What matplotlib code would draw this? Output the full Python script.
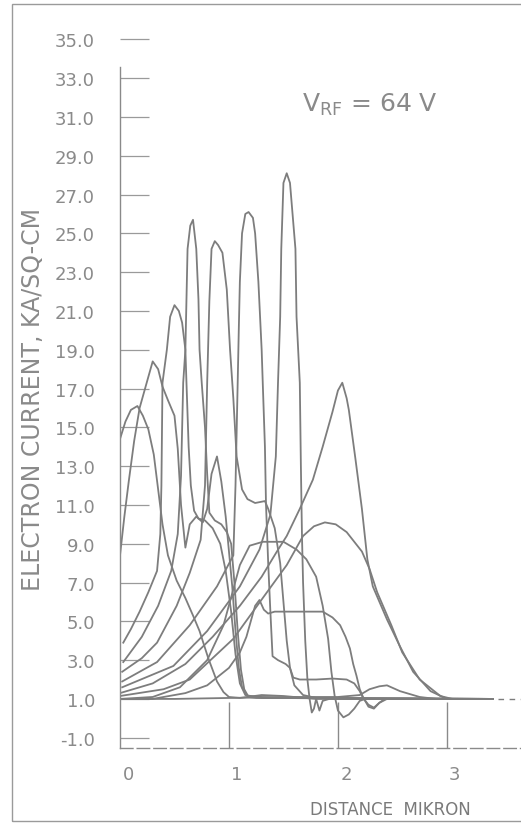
import matplotlib
matplotlib.use("Agg")
import matplotlib.pyplot as plt
from matplotlib.patches import Rectangle
from matplotlib.transforms import ScaledTranslation

# ---------------- data (distance in micron, current in kA/cm^2) ----------------
c1_x = [0, 0.05, 0.10, 0.16, 0.21, 0.26, 0.31, 0.35, 0.39, 0.44, 0.52, 0.60, 0.67, 0.73, 0.81, 0.89, 0.95, 1.00, 1.10, 1.30, 1.50, 1.80, 2.40, 3.42]
c1_y = [14.4, 15.3, 15.9, 16.1, 15.6, 14.9, 13.6, 11.8, 10.0, 8.4, 7.1, 6.2, 5.3, 4.5, 3.1, 1.9, 1.35, 1.1, 1.05, 1.2, 1.15, 1.0, 1.0, 1.0]

c2_x = [0, 0.04, 0.08, 0.13, 0.18, 0.23, 0.26, 0.30, 0.35, 0.39, 0.44, 0.50, 0.53, 0.56, 0.60, 0.64, 0.70, 0.76, 0.80, 0.84, 0.89, 0.93, 0.97, 1.00, 1.03, 1.06, 1.09, 1.12, 1.17, 1.30, 1.60, 3.42]
c2_y = [8.4, 10.4, 12.2, 14.3, 16.0, 17.0, 17.6, 18.4, 18.0, 17.1, 16.4, 15.6, 13.9, 11.0, 8.8, 10.0, 10.4, 10.1, 10.8, 12.6, 13.5, 12.2, 10.4, 8.6, 6.8, 4.5, 2.6, 1.6, 1.15, 1.1, 1.05, 1.0]

c3_x = [0.03, 0.10, 0.18, 0.26, 0.34, 0.37, 0.38, 0.39, 0.43, 0.46, 0.50, 0.54, 0.57, 0.60, 0.61, 0.63, 0.65, 0.68, 0.72, 0.78, 0.85, 0.92, 0.97, 1.02, 1.06, 1.10, 1.15, 1.30, 3.42]
c3_y = [3.9, 4.6, 5.5, 6.5, 7.6, 9.5, 12.0, 17.3, 19.0, 20.7, 21.3, 21.0, 20.4, 19.0, 17.3, 14.0, 12.0, 10.7, 10.3, 10.2, 9.8, 9.0, 7.6, 5.5, 3.3, 1.8, 1.2, 1.05, 1.0]

c4_x = [0.03, 0.20, 0.35, 0.47, 0.53, 0.56, 0.58, 0.60, 0.61, 0.62, 0.645, 0.67, 0.70, 0.72, 0.73, 0.75, 0.78, 0.80, 0.82, 0.87, 0.93, 0.98, 1.02, 1.05, 1.08, 1.11, 1.14, 1.18, 1.25, 3.42]
c4_y = [2.9, 4.2, 5.8, 7.6, 9.5, 12.5, 17.3, 19.0, 21.6, 24.2, 25.4, 25.7, 24.2, 21.6, 19.0, 17.3, 15.0, 12.6, 10.6, 10.2, 10.0, 9.6, 9.0, 7.0, 4.5, 2.5, 1.5, 1.1, 1.05, 1.0]

c5_x = [0.02, 0.20, 0.34, 0.52, 0.64, 0.74, 0.78, 0.80, 0.82, 0.84, 0.87, 0.90, 0.94, 0.98, 1.01, 1.04, 1.07, 1.12, 1.17, 1.24, 1.33, 1.36, 1.42, 1.47, 1.50, 1.53, 1.56, 1.60, 1.68, 1.80, 3.42]
c5_y = [2.4, 3.1, 3.9, 5.8, 7.5, 9.2, 12.0, 17.3, 21.5, 24.2, 24.6, 24.4, 24.0, 22.1, 19.0, 16.5, 13.5, 11.8, 11.3, 11.1, 11.2, 10.8, 9.8, 8.0, 6.0, 4.0, 2.6, 1.7, 1.2, 1.05, 1.0]

c6_x = [0.02, 0.34, 0.64, 0.89, 1.04, 1.06, 1.08, 1.09, 1.10, 1.12, 1.15, 1.18, 1.22, 1.24, 1.27, 1.30, 1.31, 1.33, 1.34, 1.36, 1.38, 1.40, 1.45, 1.52, 1.56, 1.59, 1.65, 1.80, 1.95, 2.08, 2.15, 2.20, 2.23, 2.28, 2.33, 2.38, 2.45, 3.42]
c6_y = [1.9, 2.9, 4.8, 6.8, 8.4, 12.0, 17.3, 20.0, 22.5, 25.0, 26.0, 26.1, 25.8, 25.0, 22.5, 19.0, 17.3, 14.0, 11.0, 8.0, 5.5, 3.2, 3.0, 2.8, 2.6, 2.1, 2.0, 2.0, 2.05, 2.0, 1.8, 1.4, 1.05, 0.7, 0.55, 0.8, 1.0, 1.0]

c7_x = [0.02, 0.49, 0.80, 1.10, 1.28, 1.38, 1.43, 1.45, 1.47, 1.48, 1.50, 1.53, 1.56, 1.61, 1.62, 1.65, 1.66, 1.67, 1.68, 1.70, 1.72, 1.74, 1.76, 1.78, 1.80, 1.83, 1.86, 1.92, 3.42]
c7_y = [1.6, 2.7, 4.5, 6.8, 8.7, 10.5, 13.5, 17.3, 20.7, 24.2, 27.6, 28.1, 27.6, 24.2, 20.7, 17.3, 13.0, 9.4, 7.0, 4.0, 2.0, 1.0, 0.3, 0.5, 1.0, 0.4, 0.9, 1.0, 1.0]

c8_x = [0, 0.30, 0.60, 0.85, 1.10, 1.30, 1.44, 1.53, 1.65, 1.77, 1.86, 1.95, 2.00, 2.04, 2.08, 2.10, 2.16, 2.22, 2.27, 2.32, 2.45, 2.57, 2.69, 2.85, 3.00, 3.42]
c8_y = [1.3, 1.8, 2.8, 4.2, 5.8, 7.3, 8.6, 9.4, 10.8, 12.3, 14.0, 15.8, 16.9, 17.3, 16.5, 15.9, 13.4, 10.8, 8.2, 6.8, 5.1, 3.7, 2.4, 1.4, 1.0, 1.0]

c9_x = [0, 0.40, 0.64, 1.04, 1.31, 1.53, 1.68, 1.78, 1.88, 1.98, 2.08, 2.22, 2.29, 2.36, 2.49, 2.59, 2.75, 2.94, 3.05, 3.42]
c9_y = [1.15, 1.5, 2.0, 4.1, 6.2, 7.9, 9.4, 9.9, 10.1, 10.0, 9.6, 8.6, 7.7, 6.5, 4.8, 3.4, 2.0, 1.15, 1.0, 1.0]

c10_x = [0, 0.30, 0.55, 0.80, 0.95, 1.10, 1.19, 1.31, 1.40, 1.50, 1.62, 1.71, 1.80, 1.86, 1.91, 1.94, 1.97, 2.00, 2.05, 2.10, 2.15, 2.20, 2.25, 3.42]
c10_y = [1.0, 1.1, 1.6, 3.0, 4.8, 7.9, 8.9, 9.1, 9.1, 9.1, 8.7, 8.2, 7.3, 5.8, 4.1, 2.4, 1.15, 0.4, 0.05, 0.2, 0.5, 0.9, 1.0, 1.0]

c11_x = [0, 0.30, 0.60, 0.80, 1.00, 1.10, 1.16, 1.24, 1.28, 1.32, 1.36, 1.42, 1.60, 1.86, 1.95, 2.02, 2.07, 2.11, 2.14, 2.17, 2.20, 2.23, 2.28, 2.33, 2.38, 2.43, 3.42]
c11_y = [1.0, 1.0, 1.3, 1.7, 2.6, 3.4, 4.2, 5.8, 6.1, 5.6, 5.4, 5.5, 5.5, 5.5, 5.2, 4.8, 4.2, 3.6, 2.8, 2.2, 1.5, 1.1, 0.6, 0.5, 0.8, 1.0, 1.0]

c12_x = [0, 0.50, 1.00, 1.60, 2.00, 2.20, 2.29, 2.38, 2.45, 2.57, 2.75, 2.90, 3.42]
c12_y = [1.0, 1.0, 1.05, 1.1, 1.1, 1.2, 1.5, 1.65, 1.7, 1.4, 1.1, 1.0, 1.0]

curves = [(c1_x, c1_y), (c2_x, c2_y), (c3_x, c3_y), (c4_x, c4_y), (c5_x, c5_y),
          (c6_x, c6_y), (c7_x, c7_y), (c8_x, c8_y), (c9_x, c9_y), (c10_x, c10_y),
          (c11_x, c11_y), (c12_x, c12_y)]

y_ticks = [-1.0 + 2 * i for i in range(19)]
y_tick_labels = [f"{v:.1f}" for v in y_ticks]
x_ticks = [0, 1, 2, 3]
x_tick_labels = ["0", "1", "2", "3"]

# ---------------- styling ----------------
INK = "#7d7d7d"
TXT = "#8a8a8a"
plt.rcParams["font.family"] = ["DejaVu Sans"]

fig = plt.figure(figsize=(5.21, 8.28), dpi=100)
fig.patch.set_facecolor("white")

# scanned page frame
fig.patches.append(Rectangle((12 / 521, 6 / 828), 1.2, 817 / 828, transform=fig.transFigure,
                             fill=False, edgecolor="#9a9a9a", linewidth=1.0))

ax = fig.add_axes([120 / 521, 79 / 828, 401 / 521, 728 / 828])
ax.set_xlim(0, 3.68)
ax.set_ylim(-1.53, 36.0)

for cx, cy in curves:
    ax.plot(cx, cy, color=INK, linewidth=1.3, solid_joinstyle="round")

# dashed continuation of the zero line
ax.hlines(1.0, 3.47, 3.68, colors=INK, linestyles=(0, (4, 4)), linewidth=1.0)

for s in ["top", "right"]:
    ax.spines[s].set_visible(False)
ax.spines["left"].set_color("#8a8a8a")
ax.spines["left"].set_linewidth(1.0)
ax.spines["left"].set_bounds(-1.53, 33.6)
ax.spines["bottom"].set_color("#8a8a8a")
ax.spines["bottom"].set_linewidth(1.0)
ax.spines["bottom"].set_linestyle((0, (9, 3)))

ax.set_yticks(y_ticks)
ax.set_yticklabels(y_tick_labels)
ax.tick_params(axis="y", direction="in", length=21, width=0.9, color="#9a9a9a",
               labelsize=13, labelcolor=TXT, pad=18)

ax.set_xticks(x_ticks)
ax.set_xticklabels(x_tick_labels)
ax.tick_params(axis="x", direction="in", length=33, width=1.0, color="#8a8a8a",
               labelsize=13, labelcolor=TXT, pad=12)
ax.xaxis.get_ticklines()[0].set_visible(False)
off = ScaledTranslation(8 / 100, 0, fig.dpi_scale_trans)
for lab in ax.get_xticklabels():
    lab.set_transform(lab.get_transform() + off)

fig.text(33 / 521, 1 - 400 / 828, "ELECTRON CURRENT, KA/SQ-CM", rotation=90,
         ha="center", va="center", fontsize=17, color=TXT)
fig.text(390 / 521, 1 - 810 / 828, "DISTANCE  MIKRON", ha="center", va="center",
         fontsize=12, color="#7a7a7a")
ax.text(0.455, 0.885, r"V$_{\rm RF}$ = 64 V", transform=ax.transAxes, ha="left",
        va="center", fontsize=18, color=TXT)

fig.savefig("out.png", dpi=100, facecolor="white")
